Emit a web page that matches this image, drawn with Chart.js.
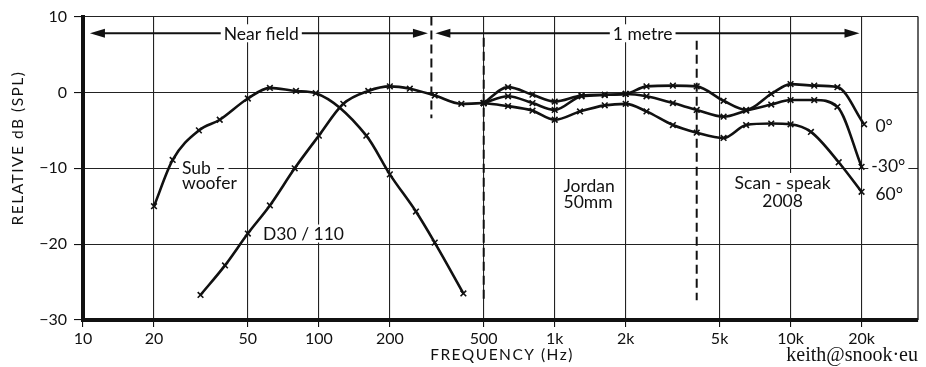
<!DOCTYPE html>
<html>
<head>
<meta charset="utf-8">
<script src="https://cdn.jsdelivr.net/npm/chart.js@4.4.1/dist/chart.umd.min.js"></script>
<style>
  html, body { margin: 0; padding: 0; background: #fff; }
</style>
</head>
<body>
<canvas id="myChart" width="926" height="367"></canvas>
<script>
// tick values and labels
const xTicks = [10, 20, 50, 100, 200, 500, 1000, 2000, 5000, 10000, 20000];
const xTickLabels = ['10', '20', '50', '100', '200', '500', '1k', '2k', '5k', '10k', '20k'];
const yTicks = [10, 0, -10, -20, -30];
const yTickLabels = ['10', '0', '\u221210', '\u221220', '\u221230'];

// sub-woofer (near field)
const subFreq = [20, 24, 31, 38, 50, 62, 80, 97, 159, 200, 258, 310, 410];
const subDb = [-15, -8.9, -5, -3.6, -0.8, 0.6, 0.2, -0.1, -5.7, -10.8, -15.7, -19.8, -26.5];

// D30/110 (near field, continues into 1 metre)
const d30Freq = [31.5, 40, 50, 62, 79, 100, 127, 162, 200, 243, 310, 402, 500];
const d30Db = [-26.7, -22.8, -18.6, -14.9, -10, -5.7, -1.5, 0.2, 0.8, 0.5, -0.4, -1.5, -1.4];

// Jordan 50mm + Scan-speak 2008 at 1 metre, three angles
const deg0Freq = [500, 634, 805, 1000, 1300, 1630, 2000, 2450, 3170, 4000, 5200, 6480, 8280, 10000, 12600, 15800, 20500];
const deg0Db = [-1.4, 0.7, -0.3, -1.2, -0.4, -0.3, -0.2, 0.8, 0.9, 0.8, -1.1, -2.3, -0.2, 1.1, 0.9, 0.7, -4.2];
const deg30Freq = [500, 634, 805, 1000, 1300, 1630, 2000, 2450, 3170, 4000, 5200, 6480, 8280, 10000, 12600, 15800, 20000];
const deg30Db = [-1.4, -0.5, -1.4, -2.3, -0.5, -0.35, -0.2, -0.5, -1.4, -2.3, -3.2, -2.4, -1.6, -1.0, -1.0, -1.9, -9.8];
const deg60Freq = [500, 634, 805, 1000, 1280, 1630, 2000, 2450, 3170, 4000, 5200, 6480, 8280, 10000, 12200, 16000, 20000];
const deg60Db = [-1.4, -1.8, -2.4, -3.6, -2.5, -1.7, -1.5, -2.5, -4.3, -5.3, -6.0, -4.3, -4.1, -4.2, -5.2, -9.2, -13.1];

const ink = '#111';
const font = 'Lato';

// notes drawn on the plot, placed in data units (Hz, dB)
const dashes = [
  { f: 300, from: 10, to: -3.4 },
  { f: 500, from: 7.2, to: -27.8 },
  { f: 4000, from: 6.8, to: -27.4 }
];
const arrows = [
  { text: 'Near field', from: 10.7, to: 290, at: 57, db: 7.8 },
  { text: '1 metre', from: 312, to: 19600, at: 2360, db: 7.8 }
];
const texts = [
  { t: 'Sub \u2013', f: 26.3, db: -9.9, align: 'left' },
  { t: 'woofer', f: 26.3, db: -11.9, align: 'left' },
  { t: 'D30 / 110', f: 58, db: -18.6, align: 'left' },
  { t: 'Jordan', f: 1090, db: -12.2, align: 'left' },
  { t: '50mm', f: 1090, db: -14.3, align: 'left' },
  { t: 'Scan - speak', f: 9250, db: -11.8, align: 'center' },
  { t: '2008', f: 9250, db: -14.2, align: 'center' },
  { t: '0\u00b0', f: 22900, db: -4.3, align: 'left' },
  { t: '-30\u00b0', f: 22000, db: -9.6, align: 'left' },
  { t: '60\u00b0', f: 22900, db: -13.3, align: 'left' }
];

function pts(fs, ds) {
  return fs.map((f, i) => ({ x: f, y: ds[i] }));
}

function series(label, fs, ds) {
  return {
    label: label,
    data: pts(fs, ds),
    borderColor: ink,
    borderWidth: 2.6,
    cubicInterpolationMode: 'monotone',
    pointStyle: 'crossRot',
    pointRadius: 4,
    pointBorderWidth: 1.6,
    pointBorderColor: ink,
    fill: false
  };
}

function leftOf(ctx, t, px, align) {
  const w = ctx.measureText(t).width;
  if (align === 'center') return px - w / 2;
  if (align === 'right') return px - w;
  return px;
}

// white patch behind a label so grid lines break around it
function patch(ctx, t, px, py, align) {
  const w = ctx.measureText(t).width;
  ctx.fillStyle = '#fff';
  ctx.fillRect(leftOf(ctx, t, px, align) - 3, py - 9, w + 6, 18);
}

function write(ctx, t, px, py, align) {
  ctx.fillStyle = ink;
  ctx.textAlign = 'left';
  ctx.textBaseline = 'middle';
  ctx.fillText(t, leftOf(ctx, t, px, align), py + 1);
}

function head(ctx, px, py, dir) {
  ctx.beginPath();
  ctx.moveTo(px, py);
  ctx.lineTo(px + dir * 15, py - 4.5);
  ctx.lineTo(px + dir * 15, py + 4.5);
  ctx.closePath();
  ctx.fill();
}

const notes = {
  id: 'notes',
  beforeDatasetsDraw(chart) {
    const { ctx, chartArea: a } = chart;
    const x = chart.scales.x, y = chart.scales.y;
    ctx.save();
    ctx.strokeStyle = ink;
    ctx.fillStyle = ink;

    // thin right frame
    ctx.lineWidth = 1.3;
    ctx.beginPath();
    ctx.moveTo(a.right, a.top);
    ctx.lineTo(a.right, a.bottom);
    ctx.stroke();

    // dashed division lines
    ctx.lineWidth = 2;
    ctx.setLineDash([9, 5]);
    dashes.forEach(d => {
      const px = x.getPixelForValue(d.f);
      ctx.beginPath();
      ctx.moveTo(px, y.getPixelForValue(d.from));
      ctx.lineTo(px, y.getPixelForValue(d.to));
      ctx.stroke();
    });
    ctx.setLineDash([]);

    ctx.font = '17.5px ' + font;
    arrows.forEach(ar => {
      const py = y.getPixelForValue(ar.db);
      const x1 = x.getPixelForValue(ar.from), x2 = x.getPixelForValue(ar.to);
      ctx.lineWidth = 2;
      ctx.beginPath();
      ctx.moveTo(x1 + 5, py);
      ctx.lineTo(x2 - 5, py);
      ctx.stroke();
      ctx.fillStyle = ink;
      head(ctx, x1, py, 1);
      head(ctx, x2, py, -1);
      const cx = x.getPixelForValue(ar.at);
      patch(ctx, ar.text, cx, py, 'center');
      write(ctx, ar.text, cx, py, 'center');
    });

    texts.forEach(n => patch(ctx, n.t, x.getPixelForValue(n.f), y.getPixelForValue(n.db), n.align));
    texts.forEach(n => write(ctx, n.t, x.getPixelForValue(n.f), y.getPixelForValue(n.db), n.align));
    ctx.restore();
  },
  afterDraw(chart) {
    const { ctx, chartArea: a } = chart;
    ctx.save();
    ctx.fillStyle = ink;
    ctx.font = '15.5px ' + font;
    ctx.letterSpacing = '1.5px';
    ctx.textAlign = 'center';
    ctx.textBaseline = 'middle';
    ctx.fillText('FREQUENCY (Hz)', 502, 355);
    ctx.translate(18, 148);
    ctx.rotate(-Math.PI / 2);
    ctx.fillText('RELATIVE dB (SPL)', 0, 0);
    ctx.restore();

    ctx.save();
    ctx.fillStyle = ink;
    ctx.font = '20px "Liberation Serif"';
    ctx.textAlign = 'right';
    ctx.textBaseline = 'alphabetic';
    ctx.fillText('keith@snook\u00b7eu', a.right, 361);
    ctx.restore();
  }
};

Chart.defaults.font.family = font;
Chart.defaults.font.size = 16;
Chart.defaults.color = ink;

new Chart(document.getElementById('myChart'), {
  type: 'line',
  data: {
    datasets: [
      series('Sub-woofer', subFreq, subDb),
      series('D30/110', d30Freq, d30Db),
      series('0\u00b0', deg0Freq, deg0Db),
      series('30\u00b0', deg30Freq, deg30Db),
      series('60\u00b0', deg60Freq, deg60Db)
    ]
  },
  options: {
    responsive: false,
    animation: false,
    layout: { padding: { top: 16, right: 8, bottom: 0, left: 0 } },
    plugins: { legend: false, tooltip: { enabled: false } },
    scales: {
      x: {
        type: 'logarithmic',
        min: 10,
        max: 34700,
        afterBuildTicks: s => { s.ticks = xTicks.map(v => ({ value: v })); },
        afterFit: s => { s.height = 47; },
        ticks: {
          autoSkip: false,
          maxRotation: 0,
          padding: 2,
          color: ink,
          callback: (v, i) => xTickLabels[i]
        },
        grid: { color: '#222', lineWidth: 1.1, tickLength: 7, tickColor: ink },
        border: { color: ink, width: 4 }
      },
      y: {
        min: -30,
        max: 10,
        afterBuildTicks: s => { s.ticks = yTicks.map(v => ({ value: v })); },
        afterFit: s => { s.width = 83; },
        ticks: {
          padding: 7,
          color: ink,
          callback: v => yTickLabels[yTicks.indexOf(v)]
        },
        grid: { color: '#222', lineWidth: 1.1, tickLength: 9, tickColor: ink },
        border: { color: ink, width: 4 }
      }
    }
  },
  plugins: [notes]
});
</script>
</body>
</html>
